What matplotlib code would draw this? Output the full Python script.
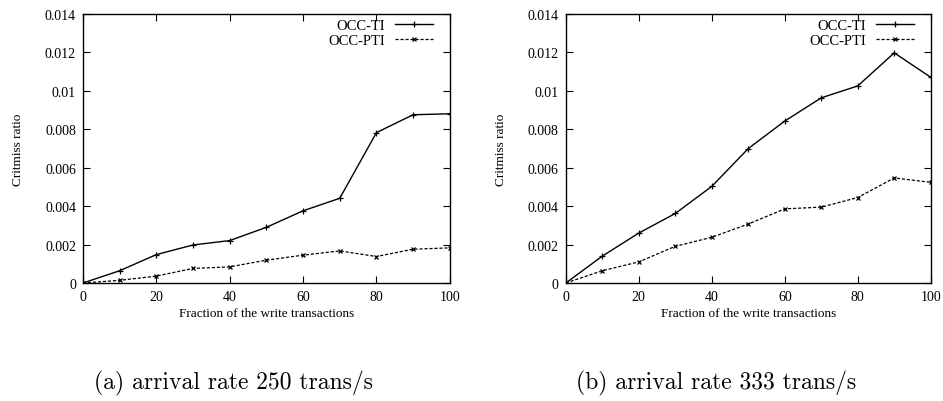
import matplotlib
matplotlib.use("Agg")
import matplotlib.pyplot as plt

# Fraction of write transactions (%)
fractions = [0, 10, 20, 30, 40, 50, 60, 70, 80, 90, 100]

# (a) arrival rate 250 trans/s
ti_250 = [0.0, 0.00064, 0.00148, 0.00198, 0.00221, 0.0029, 0.00376, 0.00441, 0.00783, 0.00876, 0.00881]
pti_250 = [0.0, 0.00014, 0.00036, 0.00076, 0.00084, 0.00119, 0.00145, 0.00167, 0.00138, 0.00176, 0.00183]

# (b) arrival rate 333 trans/s
ti_333 = [0.0, 0.0014, 0.0026, 0.00362, 0.00503, 0.0070, 0.00843, 0.00964, 0.01026, 0.01198, 0.01071]
pti_333 = [0.0, 0.00064, 0.0011, 0.00191, 0.00238, 0.00307, 0.00386, 0.00395, 0.00445, 0.00547, 0.00524]

yticks = [0, 0.002, 0.004, 0.006, 0.008, 0.01, 0.012, 0.014]
ytick_labels = ["0", "0.002", "0.004", "0.006", "0.008", "0.01", "0.012", "0.014"]
xticks = [0, 20, 40, 60, 80, 100]

captions = ["(a) arrival rate 250 trans/s", "(b) arrival rate 333 trans/s"]

plt.rcParams["font.family"] = "Liberation Serif"

fig = plt.figure(figsize=(9.43, 4.02), dpi=100)
ax1 = fig.add_axes([0.088, 0.2935, 0.389, 0.669])
ax2 = fig.add_axes([0.600, 0.2935, 0.387, 0.669])


def draw(ax, ti, pti):
    ax.plot(fractions, ti, color="black", lw=1.0, marker="+", ms=4,
            mew=0.9, label="OCC-TI")
    ax.plot(fractions, pti, color="black", lw=0.9, ls=(0, (2.5, 1.5)),
            marker="x", ms=3.5, mew=0.9, label="OCC-PTI")
    ax.set_xlim(0, 100)
    ax.set_ylim(0, 0.014)
    ax.set_xticks(xticks)
    ax.set_yticks(yticks)
    ax.set_yticklabels(ytick_labels)
    ax.tick_params(direction="in", top=True, right=True, length=5,
                   width=0.8, labelsize=10, pad=5)
    for s in ax.spines.values():
        s.set_linewidth(1.0)
    ax.set_xlabel("Fraction of the write transactions", fontsize=9.5, labelpad=3)
    ax.set_ylabel("Critmiss ratio", fontsize=9.5, labelpad=15)
    ax.legend(loc="upper right", frameon=False, markerfirst=False,
              fontsize=10.5, handlelength=2.6, handletextpad=0.7,
              labelspacing=0.12, borderaxespad=0.0,
              bbox_to_anchor=(0.97, 1.005))


draw(ax1, ti_250, pti_250)
draw(ax2, ti_333, pti_333)

fig.text(0.248, 0.047, captions[0], ha="center", va="center",
         family="cmr10", fontsize=17)
fig.text(0.759, 0.047, captions[1], ha="center", va="center",
         family="cmr10", fontsize=17)

fig.savefig("out.png", dpi=100)
